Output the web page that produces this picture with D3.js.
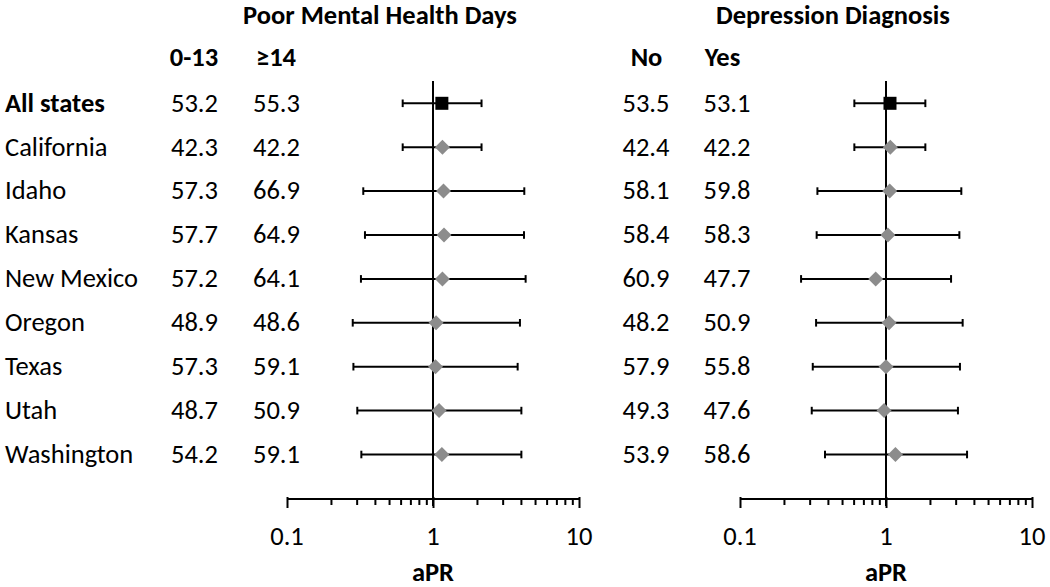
<!DOCTYPE html>
<html><head><meta charset="utf-8">
<script src="https://cdn.jsdelivr.net/npm/d3@7"></script>
<style>
html,body{margin:0;padding:0;background:#fff;}
svg{display:block;}
text{font-family:Carlito,Calibri,Lato,sans-serif;fill:#000;}
</style></head>
<body>
<svg id="chart" width="1050" height="587"></svg>
<script>
const states = ["All states","California","Idaho","Kansas","New Mexico","Oregon","Texas","Utah","Washington"];
const pmhHeaders = ["0-13","\u226514"];
const depHeaders = ["No","Yes"];
const pmhLow  = ["53.2","42.3","57.3","57.7","57.2","48.9","57.3","48.7","54.2"];
const pmhHigh = ["55.3","42.2","66.9","64.9","64.1","48.6","59.1","50.9","59.1"];
const depNo   = ["53.5","42.4","58.1","58.4","60.9","48.2","57.9","49.3","53.9"];
const depYes  = ["53.1","42.2","59.8","58.3","47.7","50.9","55.8","47.6","58.6"];
const pmhAPR = [1.15,1.16,1.18,1.19,1.16,1.05,1.04,1.10,1.15];
const pmhLo  = [0.62,0.62,0.333,0.342,0.321,0.282,0.285,0.303,0.323];
const pmhHi  = [2.15,2.15,4.22,4.20,4.31,3.94,3.80,4.03,4.03];
const depAPR = [1.065,1.07,1.06,1.03,0.85,1.05,1.00,0.97,1.16];
const depLo  = [0.607,0.607,0.339,0.335,0.262,0.332,0.315,0.31,0.382];
const depHi  = [1.86,1.86,3.28,3.18,2.79,3.35,3.21,3.11,3.59];
const majorTicks = [0.1,1,10];
const minorTicks = [0.2,0.3,0.4,0.5,0.6,0.7,0.8,0.9,2,3,4,5,6,7,8,9];

const svg = d3.select("#chart");
const FS = 26.5;
const y = d3.scalePoint().domain(states).range([103.3, 454.5]);
const axisY = 499;
const refTop = 81;

function panel(opt){
  const x = d3.scaleLog().domain([0.1,10]).range(opt.range);
  const g = svg.append("g");
  g.append("text").attr("x", opt.titleX).attr("y", 24).attr("text-anchor","middle")
    .attr("font-weight","bold").attr("font-size", FS).text(opt.title);
  opt.headers.forEach((h,i)=>{
    g.append("text").attr("x", opt.headerX[i]).attr("y", 66).attr("text-anchor","middle")
      .attr("font-weight","bold").attr("font-size", FS).text(h);
  });
  [opt.col1, opt.col2].forEach((col,ci)=>{
    g.selectAll(null).data(col).enter().append("text")
      .attr("x", opt.colX[ci]).attr("y",(d,i)=>y(states[i])+8.3)
      .attr("text-anchor","middle").attr("font-size",FS).text(d=>d);
  });
  const ax = d3.axisBottom(x).tickValues(majorTicks.concat(minorTicks))
    .tickSize(6).tickSizeOuter(0).tickFormat("");
  const axg = g.append("g").attr("transform",`translate(0,${axisY})`).call(ax);
  axg.select(".domain").attr("stroke","#000").attr("stroke-width",2).attr("d",`M${opt.range[0]},0H${opt.range[1]}`);
  axg.selectAll(".tick line").attr("stroke","#000").attr("stroke-width",2)
     .attr("y1", d=> majorTicks.includes(d) ? -2 : 0)
     .attr("y2", d=> majorTicks.includes(d) ? 9 : 6);
  g.selectAll(null).data(majorTicks).enter().append("text")
    .attr("x", d=>x(d)).attr("y", 545).attr("text-anchor","middle").attr("font-size",FS)
    .text(d=>d3.format("")(d));
  g.append("text").attr("x", x(1)).attr("y", 581).attr("text-anchor","middle")
    .attr("font-weight","bold").attr("font-size",FS).text("aPR");
  g.append("line").attr("x1",x(1)).attr("x2",x(1)).attr("y1",refTop).attr("y2",axisY+7)
    .attr("stroke","#000").attr("stroke-width",2);
  const rows = states.map((s,i)=>({s, i, lo:opt.lo[i], hi:opt.hi[i], est:opt.est[i]}));
  const w = g.selectAll(null).data(rows).enter().append("g");
  w.append("line").attr("x1",d=>x(d.lo)).attr("x2",d=>x(d.hi))
    .attr("y1",d=>y(d.s)).attr("y2",d=>y(d.s)).attr("stroke","#000").attr("stroke-width",2);
  w.append("line").attr("x1",d=>x(d.lo)).attr("x2",d=>x(d.lo))
    .attr("y1",d=>y(d.s)-3.8).attr("y2",d=>y(d.s)+3.8).attr("stroke","#000").attr("stroke-width",2);
  w.append("line").attr("x1",d=>x(d.hi)).attr("x2",d=>x(d.hi))
    .attr("y1",d=>y(d.s)-3.8).attr("y2",d=>y(d.s)+3.8).attr("stroke","#000").attr("stroke-width",2);
  w.filter(d=>d.i===0).append("rect")
    .attr("x",d=>x(d.est)-6.5).attr("y",d=>y(d.s)-6.5).attr("width",13).attr("height",13).attr("fill","#000");
  w.filter(d=>d.i>0).append("path")
    .attr("d",d=>{const cx=x(d.est), cy=y(d.s), r=7.5; return `M${cx},${cy-r}L${cx+r},${cy}L${cx},${cy+r}L${cx-r},${cy}Z`;})
    .attr("fill","#8c8c8c");
}

svg.selectAll(null).data(states).enter().append("text")
  .attr("x",5).attr("y",d=>y(d)+8.3).attr("font-size",FS)
  .attr("font-weight",(d,i)=> i===0 ? "bold" : "normal").text(d=>d);

panel({range:[287,579], title:"Poor Mental Health Days", titleX:380, headers:pmhHeaders,
  headerX:[194,276], colX:[194.5,276.5], col1:pmhLow, col2:pmhHigh, est:pmhAPR, lo:pmhLo, hi:pmhHi});
panel({range:[740,1032], title:"Depression Diagnosis", titleX:833, headers:depHeaders,
  headerX:[646.5,722.5], colX:[646,727], col1:depNo, col2:depYes, est:depAPR, lo:depLo, hi:depHi});
</script>
</body></html>
